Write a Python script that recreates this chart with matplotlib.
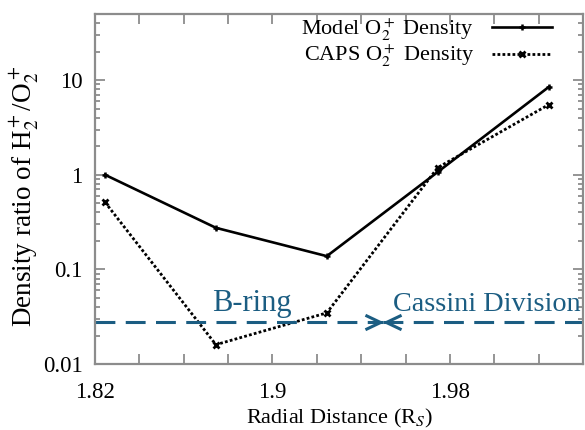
import numpy as np
import matplotlib
matplotlib.use("Agg")
import matplotlib.pyplot as plt
from matplotlib.path import Path
from matplotlib.ticker import FixedLocator, FuncFormatter, LogLocator, NullFormatter

plt.rcParams['font.family'] = ['Liberation Serif', 'DejaVu Serif']
plt.rcParams['mathtext.fontset'] = 'stix'

# data
radial = [1.8245, 1.8745, 1.9245, 1.9745, 2.0245]
model_ratio = [1.0, 0.275, 0.138, 1.07, 8.45]
caps_ratio = [0.513, 0.016, 0.0347, 1.19, 5.5]

ring_boundary = 1.95      # B-ring / Cassini Division edge
ring_level = 0.0275       # height of the region arrows
x_range = (1.82, 2.04)
y_range = (0.01, 50)
x_ticks = list(np.arange(1.82, 2.0401, 0.02))
y_ticks = [0.01, 0.1, 1, 10]
y_labels = ['0.01', '0.1', '1', '10']

ring_color = '#1b5d82'
spine_color = '#8c8c8c'

fig = plt.figure(figsize=(5.85, 4.3), dpi=100)
ax = fig.add_axes([0.1624, 0.1535, 0.8342, 0.8139])

ax.plot(radial, model_ratio, color='black', lw=1.9, marker='+', ms=5, mew=1.8,
        label='Model O$_2^+$ Density')
ax.plot(radial, caps_ratio, color='black', lw=2.0, ls=(0, (1, 0.8)), marker='x',
        ms=5, mew=2.0, label='CAPS O$_2^+$ Density')

# region arrows
dash = (0, (6.5, 3.4))
ax.plot([x_range[0], ring_boundary], [ring_level, ring_level], color=ring_color,
        lw=2.2, ls=dash)
ax.plot([ring_boundary, x_range[1]], [ring_level, ring_level], color=ring_color,
        lw=2.2, ls=dash)
right_head = Path([(-1.25, 0.5), (-0.2, 0.0), (-1.25, -0.5)],
                  [Path.MOVETO, Path.LINETO, Path.LINETO])
left_head = Path([(1.25, 0.5), (0.2, 0.0), (1.25, -0.5)],
                 [Path.MOVETO, Path.LINETO, Path.LINETO])
ax.plot([ring_boundary], [ring_level], marker=right_head, ms=26, mew=2.2,
        mfc='none', mec=ring_color, ls='none')
ax.plot([ring_boundary], [ring_level], marker=left_head, ms=26, mew=2.2,
        mfc='none', mec=ring_color, ls='none')
ax.text(1.8906, 0.0366, 'B-ring', color=ring_color, fontsize=22, ha='center',
        va='baseline')
ax.text(1.9965, 0.0366, 'Cassini Division', color=ring_color, fontsize=20.3,
        ha='center', va='baseline')

ax.set_yscale('log')
ax.set_xlim(*x_range)
ax.set_ylim(*y_range)

ax.xaxis.set_major_locator(FixedLocator(x_ticks))
ax.xaxis.set_major_formatter(FuncFormatter(
    lambda v, p: ('%g' % round(v, 2)) if p % 4 == 0 else ''))
ax.yaxis.set_major_locator(FixedLocator(y_ticks))
ax.set_yticklabels(y_labels)
ax.yaxis.set_minor_locator(LogLocator(base=10, subs=np.arange(2, 10)))
ax.yaxis.set_minor_formatter(NullFormatter())

ax.tick_params(which='both', direction='in', top=True, right=True,
               color=spine_color, width=1.3)
ax.tick_params(which='major', length=7, labelsize=16.5)
ax.tick_params(which='minor', length=3.5)
ax.tick_params(axis='x', pad=13)
ax.tick_params(axis='y', pad=9)
for s in ax.spines.values():
    s.set_color(spine_color)
    s.set_linewidth(1.6)

ax.set_xlabel('Radial Distance (R$_S$)', fontsize=16, labelpad=3)
ax.set_ylabel('Density ratio of H$_2^+$/O$_2^+$', fontsize=19.5)
ax.yaxis.set_label_coords(-0.109, 0.48)

ax.legend(loc='upper right', frameon=False, fontsize=16, markerfirst=False,
          handlelength=2.7, labelspacing=0.0, borderaxespad=0.0,
          bbox_to_anchor=(0.955, 1.018), handletextpad=0.8)

plt.savefig('out.png', dpi=100)
